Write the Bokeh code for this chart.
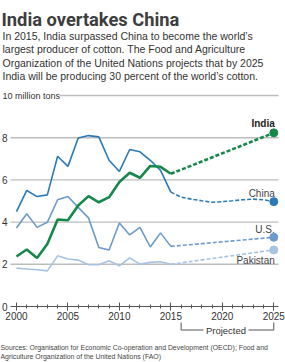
from bokeh.plotting import figure
from bokeh.models import Label, Range1d, FixedTicker, SingleIntervalTicker
from bokeh.embed import file_html
from bokeh.resources import INLINE

years = list(range(2000, 2016))
india = [2.37, 2.70, 2.30, 2.96, 4.12, 4.09, 4.79, 5.23, 4.94, 5.18, 5.90, 6.34, 6.10, 6.66, 6.62, 6.29]
china = [4.50, 5.50, 5.21, 5.29, 7.12, 6.64, 7.99, 8.10, 8.04, 6.93, 6.40, 7.44, 7.33, 6.93, 6.45, 5.42]
us = [3.72, 4.40, 3.75, 3.99, 5.06, 5.21, 4.70, 4.20, 2.80, 2.68, 3.96, 3.39, 3.75, 2.82, 3.49, 2.85]
pakistan = [1.82, 1.78, 1.74, 1.69, 2.40, 2.25, 2.20, 1.98, 1.98, 2.17, 1.93, 2.30, 2.01, 2.09, 2.12, 2.00]

proj_years = list(range(2015, 2026))
china_proj = [5.42, 5.18, 5.09, 5.01, 4.94, 4.97, 5.01, 5.06, 5.09, 5.06, 4.97]
india_2025 = 8.23
us_2025 = 3.28
pakistan_2025 = 2.68

y_ticks = [0, 2, 4, 6, 8]
grid_ticks = [2, 4, 6, 8, 10]

title = "India overtakes China"
subtitle = [
    "In 2015, India surpassed China to become the world\u2019s",
    "largest producer of cotton. The Food and Agriculture",
    "Organization of the United Nations projects that by 2025",
    "India will be producing 30 percent of the world\u2019s cotton.",
]
sources = [
    "Sources: Organisation for Economic Co-operation and Development (OECD); Food and",
    "Agriculture Organization of the United Nations (FAO)",
]

C_INDIA = "#16884a"
C_CHINA = "#2a7ab8"
C_US = "#6b9bcb"
C_PAK = "#a6c3e1"
TXT = "#333333"
FONT = "Liberation Sans"

W, H = 285, 362
# pixel geometry of the chart area inside the canvas
FL, FR, FB = 10, 278, 306
XA, XB = 1999.42, 2025.46     # data x at pixels FL and FR
PPY = 21.1                    # pixels per million tons


def X(px):
    return XA + (px - FL) * (XB - XA) / (FR - FL)


def Y(py):
    return (FB - py) / PPY


p = figure(width=W, height=H, output_backend="svg", toolbar_location=None,
           x_range=Range1d(X(0), X(W)), y_range=Range1d(Y(H), Y(0)),
           min_border_left=0, min_border_right=0,
           min_border_top=0, min_border_bottom=0)
p.outline_line_color = None
p.background_fill_color = "white"
p.border_fill_color = "white"

# axes (placed inside the canvas at fixed data locations)
p.xaxis.fixed_location = 0
p.xaxis.bounds = (XA, XB)
p.xaxis.ticker = SingleIntervalTicker(interval=5, num_minor_ticks=5)
p.xaxis.axis_line_color = "#555555"
p.xaxis.major_tick_line_color = "#555555"
p.xaxis.minor_tick_line_color = "#555555"
p.xaxis.major_tick_in = 4
p.xaxis.major_tick_out = 4
p.xaxis.minor_tick_in = 2
p.xaxis.minor_tick_out = 2
p.xaxis.major_label_standoff = 1
p.xaxis.major_label_text_font = FONT
p.xaxis.major_label_text_font_size = "10px"
p.xaxis.major_label_text_color = TXT

p.yaxis.fixed_location = XA
p.yaxis.bounds = (0, 8)
p.yaxis.ticker = FixedTicker(ticks=y_ticks)
p.yaxis.axis_line_color = None
p.yaxis.major_tick_line_color = None
p.yaxis.minor_tick_line_color = None
p.yaxis.major_tick_in = 0
p.yaxis.major_tick_out = 0
p.yaxis.minor_tick_in = 0
p.yaxis.minor_tick_out = 0
p.yaxis.major_label_standoff = 3
p.yaxis.major_label_text_font = FONT
p.yaxis.major_label_text_font_size = "10px"
p.yaxis.major_label_text_color = TXT

p.xgrid.grid_line_color = None
p.ygrid.grid_line_color = None

# horizontal grid lines, spanning the chart area only
n = len(grid_ticks)
p.segment(x0=[XA] * n, x1=[XB] * n, y0=grid_ticks, y1=grid_ticks,
          line_color="#bdbdbd", line_width=1.4)

p.add_layout(Label(x=X(2), y=10, text="10 million tons", text_font=FONT,
                   text_font_size="9px", text_color=TXT, text_baseline="middle",
                   background_fill_color="white", border_line_color=None))

# series
p.line(years, pakistan, color=C_PAK, line_width=1.6)
p.line(years, us, color=C_US, line_width=1.6)
p.line(years, china, color=C_CHINA, line_width=1.6)
p.line(years, india, color=C_INDIA, line_width=2.6)

p.line([2015, 2025], [pakistan[-1], pakistan_2025], color=C_PAK, line_width=1.6, line_dash="4 2")
p.line([2015, 2025], [us[-1], us_2025], color=C_US, line_width=1.6, line_dash="4 2")
p.line(proj_years, china_proj, color=C_CHINA, line_width=1.6, line_dash="4 2")
p.line([2015, 2025], [india[-1], india_2025], color=C_INDIA, line_width=2.6, line_dash="4 2")

p.scatter([2025], [pakistan_2025], size=8, color=C_PAK)
p.scatter([2025], [us_2025], size=8, color=C_US)
p.scatter([2025], [china_proj[-1]], size=8, color=C_CHINA)
p.scatter([2025], [india_2025], size=8, color=C_INDIA)


def slabel(text, yv, dpx, bold=False):
    p.add_layout(Label(x=2025, y=yv + dpx / PPY, text=text, text_font=FONT,
                       text_font_size="10px", text_color="#222222" if bold else "#444444",
                       text_font_style="bold" if bold else "normal",
                       text_align="right", text_baseline="middle", x_offset=1))


slabel("India", india_2025, 9, bold=True)
slabel("China", china_proj[-1], 8.3)
slabel("U.S.", us_2025, 8.2)
slabel("Pakistan", pakistan_2025, -10.5)

# title & subtitle
p.add_layout(Label(x=X(1), y=Y(19), text=title, text_font="Roboto",
                   text_font_size="18.3px", text_font_style="bold", text_color="#3d3d3d",
                   text_baseline="alphabetic"))
for i, line in enumerate(subtitle):
    p.add_layout(Label(x=X(2), y=Y(35 + 13.5 * i), text=line, text_font=FONT,
                       text_font_size="10.5px", text_color=TXT, text_baseline="alphabetic"))

# projected bracket
top, bot = Y(322), Y(329.5)
for xs, ys in [((2016, 2016), (top, bot)), ((2016, X(203)), (bot, bot)),
               ((X(248), 2025), (bot, bot)), ((2025, 2025), (bot, top))]:
    p.line(list(xs), list(ys), line_color="#555555", line_width=1)
p.add_layout(Label(x=X(225.5), y=Y(329.5), text="Projected", text_font=FONT,
                   text_font_size="9.5px", text_color=TXT, text_align="center",
                   text_baseline="middle"))

for i, line in enumerate(sources):
    p.add_layout(Label(x=X(0), y=Y(347 + 9 * i), text=line, text_font=FONT,
                       text_font_size="6.9px", text_color="#444444", text_baseline="alphabetic"))

open("out.html", "w").write(file_html(p, INLINE))
